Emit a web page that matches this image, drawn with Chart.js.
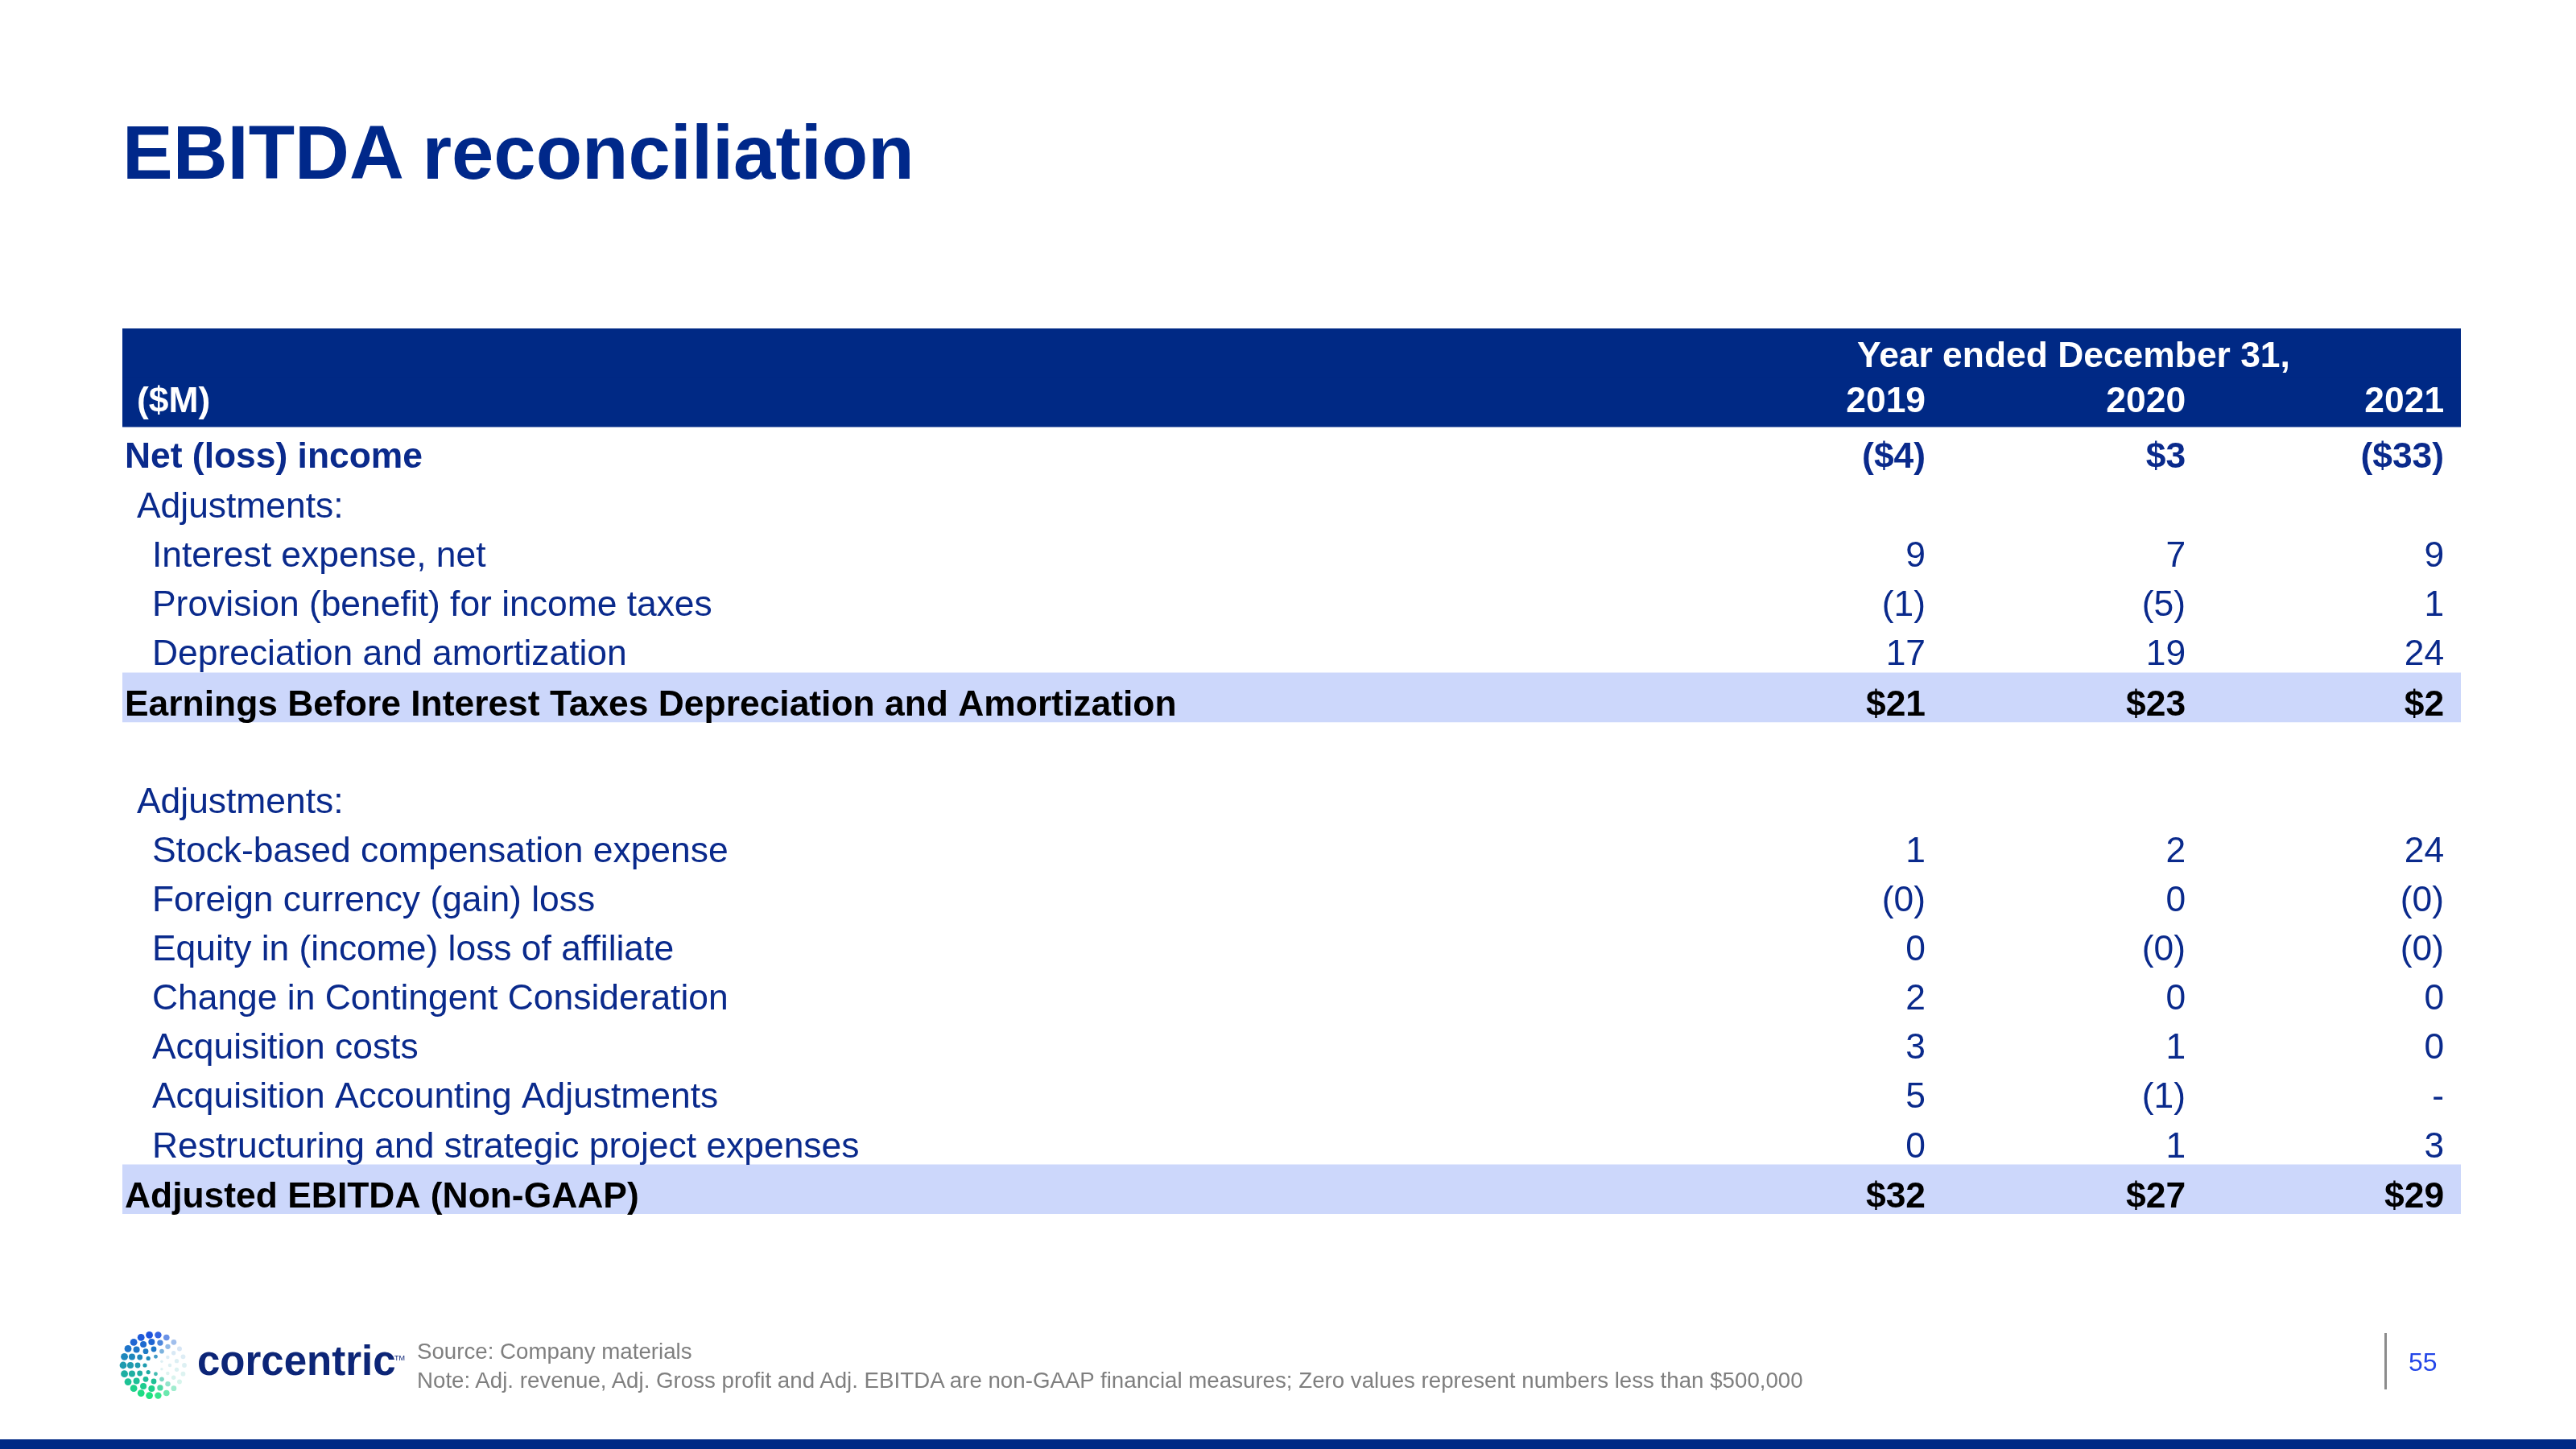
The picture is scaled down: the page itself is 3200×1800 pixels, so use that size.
<!DOCTYPE html>
<html lang="en">
<head>
    <meta charset="UTF-8">
    <title>EBITDA reconciliation</title>
    <script src="https://cdn.jsdelivr.net/npm/chart.js"></script>
    <style>
        html, body {
            margin: 0;
            padding: 0;
            background: #ffffff;
        }
        .page {
            position: relative;
            width: 3200px;
            height: 1800px;
            overflow: hidden;
            font-family: "Liberation Sans", Arial, Helvetica, sans-serif;
        }
        #table {
            position: absolute;
            left: 0;
            top: 0;
        }
        .title {
            position: absolute;
            left: 152px;
            top: 143px;
            font-size: 94px;
            line-height: 94px;
            font-weight: bold;
            color: #00288a;
            white-space: nowrap;
        }
        .footnote {
            position: absolute;
            left: 518px;
            font-size: 27.7px;
            line-height: 28px;
            color: #7f7f7f;
            white-space: nowrap;
        }
        .page-num {
            position: absolute;
            left: 2992px;
            top: 1676px;
            font-size: 32px;
            line-height: 32px;
            color: #2346e8;
        }
        .divider {
            position: absolute;
            left: 2962px;
            top: 1656px;
            width: 3px;
            height: 70px;
            background: #8c8c8c;
        }
        .bottom-bar {
            position: absolute;
            left: 0;
            top: 1788px;
            width: 3200px;
            height: 12px;
            background: #002985;
        }
    </style>
</head>
<body>
<div class="page">
    <canvas id="table" width="3200" height="1800"></canvas>
    <div class="title">EBITDA reconciliation</div>
    <div class="footnote" style="top:1665px">Source: Company materials</div>
    <div class="footnote" style="top:1701px">Note: Adj. revenue, Adj. Gross profit and Adj. EBITDA are non-GAAP financial measures; Zero values represent numbers less than $500,000</div>
    <div class="divider"></div>
    <div class="page-num">55</div>
    <div class="bottom-bar"></div>
</div>

<script>
    // table rows, top to bottom
    const rowLabels = [
        'Year ended December 31,',
        '($M)',
        'Net (loss) income',
        'Adjustments:',
        'Interest expense, net',
        'Provision (benefit) for income taxes',
        'Depreciation and amortization',
        'Earnings Before Interest Taxes Depreciation and Amortization',
        '',
        'Adjustments:',
        'Stock-based compensation expense',
        'Foreign currency (gain) loss',
        'Equity in (income) loss of affiliate',
        'Change in Contingent Consideration',
        'Acquisition costs',
        'Acquisition Accounting Adjustments',
        'Restructuring and strategic project expenses',
        'Adjusted EBITDA (Non-GAAP)'
    ];
    const rowKinds = ['group', 'head', 'lead', 'sub', 'item', 'item', 'item', 'total', 'gap',
                      'sub', 'item', 'item', 'item', 'item', 'item', 'item', 'item', 'total'];

    const years = ['2019', '2020', '2021'];
    const values2019 = ['', '', '($4)', '', '9', '(1)', '17', '$21', '', '', '1', '(0)', '0', '2', '3', '5', '0', '$32'];
    const values2020 = ['', '', '$3', '', '7', '(5)', '19', '$23', '', '', '2', '0', '(0)', '0', '1', '(1)', '1', '$27'];
    const values2021 = ['', '', '($33)', '', '9', '1', '24', '$2', '', '', '24', '(0)', '(0)', '0', '0', '-', '3', '$29'];
    const columns = [values2019, values2020, values2021];

    // layout (fractions of the table width)
    const colRight = [0.7711, 0.8823, 0.9928];
    const groupCenter = 0.8344;
    const indent = { group: 0, head: 18, lead: 3, sub: 18, item: 37, total: 3, gap: 0 };
    const shift = { group: 5, head: 0, lead: 8, sub: 9, item: 9, total: 10, gap: 0 };

    const FONT = '"Liberation Sans", Arial, Helvetica, sans-serif';
    const darkBand = '#002985';
    const lightBand = '#ccd7fb';
    const bodyBlue = '#0a2a8c';

    // header and total rows get a background band across the table
    const bandData = rowKinds.map(k => (k === 'group' || k === 'head' || k === 'total') ? [0, 1] : null);
    const bandColors = rowKinds.map(k => k === 'total' ? lightBand : darkBand);

    const tableText = {
        id: 'tableText',
        afterDatasetsDraw(chart) {
            const { ctx, scales: { x, y } } = chart;
            ctx.save();
            ctx.textBaseline = 'middle';
            rowKinds.forEach((kind, i) => {
                const yc = y.getPixelForValue(i) + shift[kind];
                if (kind === 'gap') return;

                if (kind === 'group') {
                    ctx.font = 'bold 44.4px ' + FONT;
                    ctx.fillStyle = '#ffffff';
                    ctx.textAlign = 'center';
                    ctx.fillText(rowLabels[i], x.getPixelForValue(groupCenter), yc);
                    return;
                }

                let color = bodyBlue;
                let bold = false;
                if (kind === 'head') { color = '#ffffff'; bold = true; }
                if (kind === 'lead') { bold = true; }
                if (kind === 'total') { color = '#000000'; bold = true; }

                ctx.font = (bold ? 'bold ' : '') + '44.4px ' + FONT;
                ctx.fillStyle = color;
                ctx.textAlign = 'left';
                ctx.fillText(rowLabels[i], x.left + indent[kind], yc);

                ctx.textAlign = 'right';
                columns.forEach((col, j) => {
                    const txt = kind === 'head' ? years[j] : col[i];
                    if (txt) ctx.fillText(txt, x.getPixelForValue(colRight[j]), yc);
                });
            });
            ctx.restore();
        }
    };

    // corcentric logo: ring of dots fading on the right, blue to green
    const logo = {
        id: 'logo',
        afterDraw(chart) {
            const ctx = chart.ctx;
            const cx = 191, cy = 1696;
            const rings = [
                { r: 38, n: 22, s: 4.4 },
                { r: 29, n: 17, s: 4 },
                { r: 20, n: 12, s: 3.4 },
                { r: 11, n: 7, s: 2.6 }
            ];
            ctx.save();
            rings.forEach((ring, k) => {
                for (let m = 0; m < ring.n; m++) {
                    const a = (m + (k % 2) * 0.5) / ring.n * Math.PI * 2;
                    const px = cx + Math.cos(a) * ring.r;
                    const py = cy + Math.sin(a) * ring.r;
                    const t = (py - (cy - 40)) / 80;
                    const gg = Math.round(80 + t * 150);
                    const bb = Math.round(225 - t * 100);
                    const ang = Math.abs(Math.atan2(Math.sin(a), Math.cos(a)));
                    const fade = Math.min(1, Math.max(0.15, (ang - 0.35) / 1.2));
                    ctx.globalAlpha = fade;
                    ctx.fillStyle = `rgb(30,${gg},${bb})`;
                    ctx.beginPath();
                    ctx.arc(px, py, ring.s * (0.6 + 0.4 * fade), 0, Math.PI * 2);
                    ctx.fill();
                }
            });
            ctx.globalAlpha = 1;
            ctx.fillStyle = '#0c2577';
            ctx.font = 'bold 51px ' + FONT;
            ctx.textAlign = 'left';
            ctx.textBaseline = 'alphabetic';
            ctx.fillText('corcentric', 245, 1708);
            ctx.font = '9px ' + FONT;
            ctx.fillText('TM', 490, 1690);
            ctx.restore();
        }
    };

    new Chart(document.getElementById('table'), {
        type: 'bar',
        data: {
            labels: rowLabels,
            datasets: [{
                data: bandData,
                backgroundColor: bandColors,
                borderWidth: 0,
                barPercentage: 1,
                categoryPercentage: 1
            }]
        },
        options: {
            indexAxis: 'y',
            responsive: false,
            animation: false,
            devicePixelRatio: 1,
            layout: { padding: { left: 152, right: 143, top: 408, bottom: 292 } },
            scales: {
                x: { type: 'linear', min: 0, max: 1, display: false },
                y: { type: 'category', display: false }
            },
            plugins: {
                legend: { display: false },
                tooltip: { enabled: false }
            }
        },
        plugins: [tableText, logo]
    });
</script>
</body>
</html>
